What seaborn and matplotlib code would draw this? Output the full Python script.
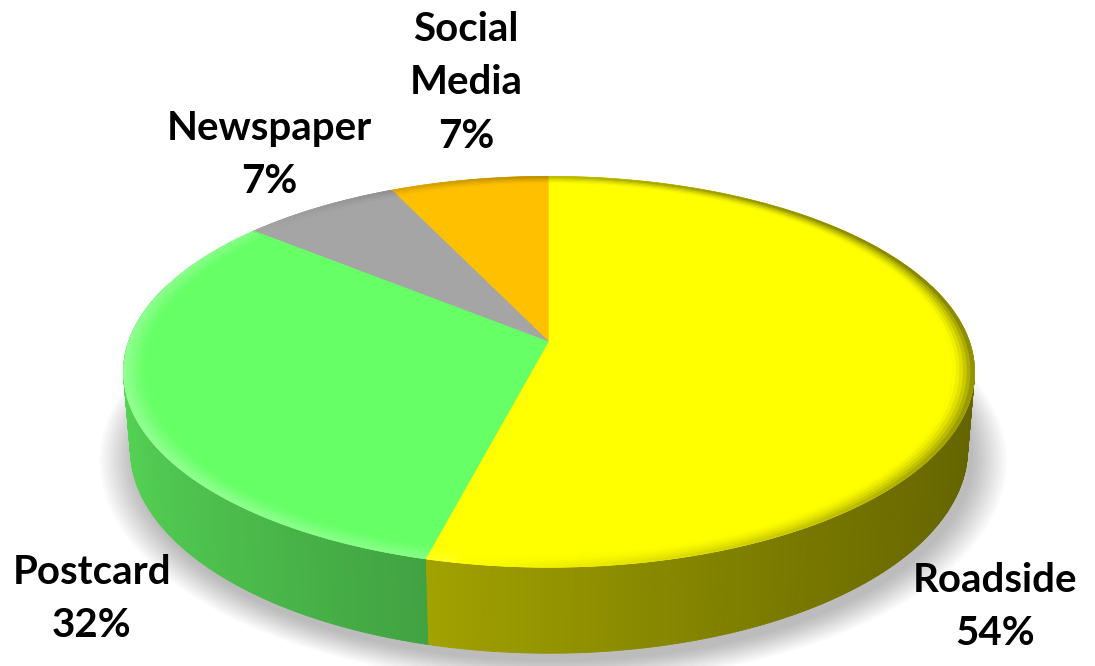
import numpy as np
import matplotlib
matplotlib.use("Agg")
import matplotlib.pyplot as plt
from matplotlib.collections import PolyCollection
from matplotlib.patches import Polygon
import seaborn as sns

# ---- data ----
categories = ["Roadside", "Postcard", "Newspaper", "Social Media"]
shares = [54, 32, 7, 7]
label_lines = ["Roadside", "Postcard", "Newspaper", "Social\nMedia"]
top_colors = ["#FFFF00", "#66FF66", "#A5A5A5", "#FFC000"]

sns.set_theme(style="white")
plt.rcParams['font.family'] = ['Lato', 'DejaVu Sans']

W, H = 1095, 666
fig = plt.figure(figsize=(W / 100, H / 100), dpi=100)
ax = fig.add_axes([0, 0, 1, 1])
ax.set_xlim(0, W)
ax.set_ylim(H, 0)
ax.axis("off")

# ---- perspective camera (layout constants) ----
CX, CY = 549, 342
phi = np.deg2rad(27)
cphi, sphi = np.cos(phi), np.sin(phi)
D = 5.85
F = 2460
THICK = 0.208


def project(x, y, z):
    depth = D + y * cphi - z * sphi
    sx = F * x / depth
    sy = F * (y * sphi + z * cphi) / depth
    return CX + sx, CY - sy


def rgb(c):
    return np.array(matplotlib.colors.to_rgb(c))


# slice angles: start at 12 o'clock and go counter-clockwise (to the left)
order = [3, 2, 1, 0]  # Social, Newspaper, Postcard, Roadside
total = sum(shares)
angles = {}
start = 90.0
for i in order:
    span = 360.0 * shares[i] / total
    angles[i] = (start, start + span)
    start += span

# ---- soft shadow ----
for k in range(14):
    grow = 1.0 + 0.006 * k
    th = np.linspace(0, 2 * np.pi, 300)
    xs, ys = project(grow * np.cos(th) + 0.01, grow * np.sin(th) - 0.02, -THICK)
    ax.add_patch(Polygon(np.column_stack([xs, ys + 3]), closed=True,
                         facecolor="#000000", edgecolor="none", alpha=0.018, zorder=1))


def side_shade(theta):
    return np.clip(0.62 - 0.22 * np.cos(theta) + 0.04 * np.sin(theta), 0, 1)


# ---- side band ----
segs, cols, depths = [], [], []
for i in order:
    a0, a1 = angles[i]
    th = np.deg2rad(np.linspace(a0, a1, max(int((a1 - a0) * 2), 4)))
    base = rgb(top_colors[i])
    for t0, t1 in zip(th[:-1], th[1:]):
        tm = 0.5 * (t0 + t1)
        if np.sin(tm) > 0.3:
            continue
        p1 = project(np.cos(t0), np.sin(t0), 0)
        p2 = project(np.cos(t1), np.sin(t1), 0)
        p3 = project(np.cos(t1), np.sin(t1), -THICK)
        p4 = project(np.cos(t0), np.sin(t0), -THICK)
        segs.append([p1, p2, p3, p4])
        c = np.clip(base * side_shade(tm), 0, 1)
        cols.append(c)
        depths.append(np.sin(tm))
idx = np.argsort(depths)[::-1]
ax.add_collection(PolyCollection([segs[j] for j in idx], facecolors=[cols[j] for j in idx],
                                 edgecolors=[cols[j] for j in idx], linewidths=0.6, zorder=2))

# ---- top faces ----
for i in order:
    a0, a1 = angles[i]
    th = np.deg2rad(np.linspace(a0, a1, 200))
    xs, ys = project(np.cos(th), np.sin(th), 0)
    cx0, cy0 = project(0, 0, 0)
    pts = np.vstack([[cx0, cy0], np.column_stack([xs, ys])])
    ax.add_patch(Polygon(pts, closed=True, facecolor=top_colors[i],
                         edgecolor=top_colors[i], linewidth=0.5, zorder=3))


# ---- bevel on the rim ----
def bevel_gain(theta):
    return 0.82 - 0.33 * np.cos(theta) - 0.12 * np.sin(theta)


rings = np.linspace(0.95, 1.0, 7)
bsegs, bcols = [], []
for i in order:
    a0, a1 = angles[i]
    th = np.deg2rad(np.linspace(a0, a1, max(int((a1 - a0) * 2), 4)))
    base = rgb(top_colors[i])
    for r0, r1 in zip(rings[:-1], rings[1:]):
        t = (0.5 * (r0 + r1) - rings[0]) / (rings[-1] - rings[0])
        for t0, t1 in zip(th[:-1], th[1:]):
            tm = 0.5 * (t0 + t1)
            g = bevel_gain(tm)
            fac = 1 + (g - 1) * t ** 1.5
            c = np.clip(base * fac + (0.12 * t if g > 1 else 0), 0, 1)
            p1 = project(r0 * np.cos(t0), r0 * np.sin(t0), 0)
            p2 = project(r0 * np.cos(t1), r0 * np.sin(t1), 0)
            p3 = project(r1 * np.cos(t1), r1 * np.sin(t1), 0)
            p4 = project(r1 * np.cos(t0), r1 * np.sin(t0), 0)
            bsegs.append([p1, p2, p3, p4])
            bcols.append(c)
ax.add_collection(PolyCollection(bsegs, facecolors=bcols, edgecolors=bcols,
                                 linewidths=0.5, zorder=4))

# ---- labels ----
label_pos = {0: (995, 607), 1: (92, 599), 2: (269, 155), 3: (466, 83)}
for i in range(len(categories)):
    x, y = label_pos[i]
    ax.text(x, y, f"{label_lines[i]}\n{shares[i]}%", ha="center", va="center",
            fontsize=29, fontweight="bold", color="#000000", linespacing=1.55, zorder=6)

fig.savefig("out.png", dpi=100, facecolor="white")
